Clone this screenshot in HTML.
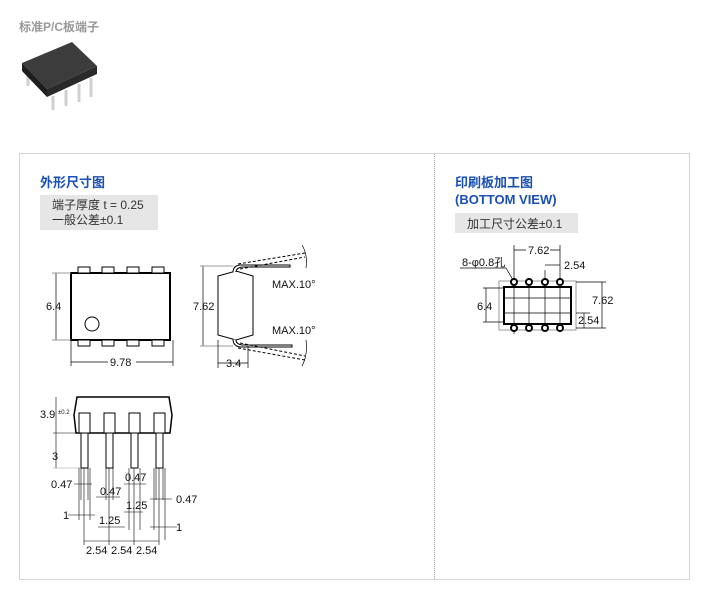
<!DOCTYPE html>
<html><head><meta charset="utf-8"><style>
body{margin:0;background:#fff;width:710px;height:597px;overflow:hidden;font-family:"Liberation Sans","Noto Sans CJK SC",sans-serif;}
svg{position:absolute;left:0;top:0}
</style></head><body>
<svg width="710" height="597" viewBox="0 0 710 597" font-family="Liberation Sans, Noto Sans CJK SC, sans-serif">
<text x="19" y="31" font-size="12" font-weight="bold" fill="#999">标准P/C板端子</text>
<!-- chip photo -->
<g stroke="#d0d0d0" stroke-width="3">
<line x1="28" y1="72" x2="28" y2="86"/>
<line x1="53" y1="96" x2="53" y2="110"/><line x1="66" y1="90" x2="66" y2="106"/><line x1="79" y1="84" x2="79" y2="102"/><line x1="91" y1="78" x2="91" y2="97"/></g>
<polygon points="22,63 72,42 97,66 47,89" fill="#3c3c3c"/>
<polygon points="22,63 47,89 47,97 22,71" fill="#1e1e1e"/>
<polygon points="47,89 97,66 97,74 47,97" fill="#2a2a2a"/>
<!-- frame -->
<rect x="19.5" y="153.5" width="670" height="426" fill="none" stroke="#aaa" stroke-dasharray="1,1"/>
<line x1="434.5" y1="154" x2="434.5" y2="580" stroke="#aaa" stroke-dasharray="1,1"/>
<text x="40" y="187" font-size="13" font-weight="bold" fill="#1a4fb5">外形尺寸图</text>
<rect x="40" y="195" width="118" height="35" fill="#e6e6e6"/>
<text x="52" y="209" font-size="12" fill="#333">端子厚度 t = 0.25</text>
<text x="52" y="224" font-size="12" fill="#333">一般公差±0.1</text>
<text x="455" y="187" font-size="13" font-weight="bold" fill="#1a4fb5">印刷板加工图</text>
<text x="455" y="204" font-size="13" font-weight="bold" fill="#1a4fb5">(BOTTOM VIEW)</text>
<rect x="455" y="213" width="123" height="20" fill="#e6e6e6"/>
<text x="467" y="228" font-size="12" fill="#333">加工尺寸公差±0.1</text>

<g stroke="#000" fill="none" stroke-width="1" font-size="11">
<!-- top view -->
<rect x="71" y="273" width="99" height="67" stroke-width="2"/>
<g fill="#fff"><rect x="78" y="267" width="12" height="6"/><rect x="102" y="267" width="12" height="6"/><rect x="127" y="267" width="12" height="6"/><rect x="152" y="267" width="12" height="6"/>
<rect x="78" y="340" width="12" height="6"/><rect x="102" y="340" width="12" height="6"/><rect x="127" y="340" width="12" height="6"/><rect x="152" y="340" width="12" height="6"/></g>
<circle cx="92" cy="324" r="7"/>
<line x1="56" y1="273" x2="56" y2="340" stroke-width=".7"/>
<line x1="52" y1="273" x2="71" y2="273" stroke="#999"/><line x1="52" y1="340" x2="71" y2="340" stroke="#999"/>
<line x1="71" y1="340" x2="71" y2="366" stroke-width=".7"/><line x1="173" y1="340" x2="173" y2="366" stroke-width=".7"/>
<line x1="71" y1="362" x2="173" y2="362" stroke-width=".7"/>
<!-- side view -->
<path d="M218,276 L236,271 L253,276 L253,335 L236,340 L218,335 Z" fill="#fff"/>
<path d="M233,272 Q233,266 240,265 L290,265 L290,267 L242,267 Q236,268 236,272" fill="#fff"/>
<path d="M233,339 Q233,346 240,347 L292,347 L292,345 L242,345 Q236,344 236,340" fill="#fff"/>
<path d="M238,264 L305,253 M240,269 L305,257" stroke-dasharray="3,2"/>
<path d="M238,348 L305,360 M240,343 L305,356" stroke-dasharray="3,2"/>
<path d="M302,245 Q308,255 306,268 M306,340 Q308,355 302,366" stroke-width=".7"/>
<line x1="203" y1="266" x2="203" y2="346" stroke-width=".7"/>
<line x1="200" y1="266" x2="233" y2="266" stroke="#999"/><line x1="200" y1="346" x2="233" y2="346" stroke="#999"/>
<line x1="218" y1="340" x2="218" y2="368" stroke-width=".7"/><line x1="248" y1="346" x2="248" y2="368" stroke-width=".7"/>
<line x1="218" y1="363" x2="248" y2="363" stroke-width=".7"/>
<!-- front view -->
<path d="M77,397 L169,397 L172,415 L170,433 L76,433 L74,415 Z" stroke-width="1.5" fill="#fff"/>
<g fill="#fff"><rect x="79" y="413" width="11" height="20"/><rect x="104" y="413" width="11" height="20"/><rect x="129" y="413" width="11" height="20"/><rect x="154" y="413" width="11" height="20"/>
<rect x="81" y="433" width="7" height="35"/><rect x="106" y="433" width="7" height="35"/><rect x="131" y="433" width="7" height="35"/><rect x="156" y="433" width="7" height="35"/></g>
<g stroke-width=".6">
<line x1="56" y1="397" x2="56" y2="468"/><line x1="53" y1="433" x2="76" y2="433"/><line x1="53" y1="468" x2="81" y2="468" stroke="#999"/>
<line x1="84" y1="468" x2="84" y2="545"/><line x1="109" y1="468" x2="109" y2="545"/><line x1="134" y1="468" x2="134" y2="545"/><line x1="159" y1="468" x2="159" y2="545"/>
<line x1="81" y1="468" x2="81" y2="500"/><line x1="88" y1="468" x2="88" y2="500"/><line x1="79" y1="468" x2="79" y2="520"/><line x1="90" y1="468" x2="90" y2="520"/>
<line x1="106" y1="468" x2="106" y2="500"/><line x1="113" y1="468" x2="113" y2="500"/><line x1="129" y1="468" x2="129" y2="530"/><line x1="140" y1="468" x2="140" y2="530"/>
<line x1="156" y1="468" x2="156" y2="500"/><line x1="163" y1="468" x2="163" y2="500"/><line x1="154" y1="468" x2="154" y2="530"/><line x1="165" y1="468" x2="165" y2="540"/>
<line x1="74" y1="484" x2="92" y2="484"/><line x1="96" y1="497" x2="120" y2="497"/><line x1="124" y1="484" x2="146" y2="484"/><line x1="150" y1="499" x2="172" y2="499"/>
<line x1="68" y1="515" x2="95" y2="515"/><line x1="98" y1="527" x2="125" y2="527"/><line x1="124" y1="512" x2="143" y2="512"/><line x1="150" y1="527" x2="177" y2="527"/>
<line x1="84" y1="541" x2="159" y2="541"/></g>
<!-- PCB -->
<rect x="499" y="281" width="77" height="49" stroke="#999"/>
<rect x="504" y="287" width="67" height="37" stroke-width="2"/>
<g stroke-width=".7"><line x1="514" y1="276" x2="514" y2="334"/><line x1="529" y1="281" x2="529" y2="330"/><line x1="545" y1="270" x2="545" y2="330"/><line x1="560" y1="245" x2="560" y2="330"/>
<line x1="504" y1="298" x2="571" y2="298"/><line x1="504" y1="313" x2="571" y2="313"/>
<line x1="514" y1="245" x2="514" y2="276"/><line x1="514" y1="250" x2="560" y2="250"/><line x1="545" y1="265" x2="560" y2="265"/>
<line x1="486" y1="288" x2="486" y2="322"/><line x1="483" y1="288" x2="504" y2="288"/><line x1="483" y1="322" x2="504" y2="322"/>
<line x1="602" y1="282" x2="602" y2="328"/><line x1="576" y1="282" x2="606" y2="282"/><line x1="576" y1="328" x2="606" y2="328"/>
<line x1="584" y1="313" x2="584" y2="328"/><line x1="576" y1="313" x2="590" y2="313"/>
<line x1="460" y1="268" x2="506" y2="268"/><line x1="506" y1="268" x2="513" y2="280"/></g>
<g stroke-width="2" fill="#fff"><circle cx="514" cy="282" r="3"/><circle cx="529" cy="282" r="3"/><circle cx="545" cy="282" r="3"/><circle cx="560" cy="282" r="3"/>
<circle cx="514" cy="328" r="3"/><circle cx="529" cy="328" r="3"/><circle cx="545" cy="328" r="3"/><circle cx="560" cy="328" r="3"/></g>
</g>
<g font-size="11" fill="#111">
<text x="46" y="310">6.4</text>
<rect x="108" y="356" width="28" height="12" fill="#fff"/><text x="110" y="366">9.78</text>
<text x="193" y="310">7.62</text>
<text x="226" y="367">3.4</text>
<text x="272" y="288">MAX.10°</text><text x="272" y="334">MAX.10°</text>
<text x="40" y="418">3.9</text><text x="58" y="414" font-size="6">±0.2</text>
<text x="52" y="460">3</text>
<text x="51" y="488">0.47</text><text x="100" y="495">0.47</text><text x="125" y="481">0.47</text><text x="176" y="503">0.47</text>
<text x="63" y="519">1</text><text x="99" y="524">1.25</text><text x="126" y="509">1.25</text><text x="176" y="531">1</text>
<text x="86" y="554">2.54</text><text x="111" y="554">2.54</text><text x="136" y="554">2.54</text>
<text x="462" y="266">8-φ0.8孔</text>
<rect x="526" y="244" width="24" height="12" fill="#fff"/><text x="528" y="254">7.62</text>
<text x="564" y="269">2.54</text>
<text x="477" y="310">6.4</text>
<text x="592" y="304">7.62</text>
<text x="578" y="324">2.54</text>
</g>
</svg>
</body></html>
